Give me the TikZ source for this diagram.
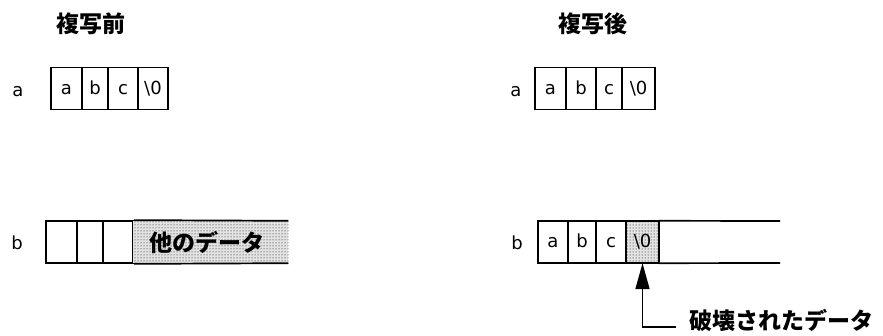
\documentclass[tikz,border=0pt]{standalone}
\usepackage{fontspec}
\newfontfamily\jp{Noto Sans CJK JP}
\setmainfont{DejaVu Sans}
\usetikzlibrary{arrows.meta,patterns}
\begin{document}
\begin{tikzpicture}[x=1pt,y=-1pt,
  cell/.style={draw=black,line width=1.7pt,minimum height=42pt,inner sep=0pt,text height=12pt,text depth=0pt,font=\fontsize{18}{18}\selectfont},
  shade/.style={fill=gray!22,pattern color=black,inner sep=0pt,minimum height=42pt},
  title/.style={font=\jp\bfseries\fontsize{23}{23}\selectfont},
  lab/.style={font=\fontsize{18}{18}\selectfont,text height=12pt,text depth=0pt},
  edge/.style={line width=1.7pt}]
\useasboundingbox (0,0) rectangle (883,336);
% titles
\node[title] (t1) at (91,24) {複写前};
\node[title] (t2) at (593,24) {複写後};
% row labels
\node[lab] (la1) at (18,91) {a};
\node[lab] (la2) at (516,91) {a};
\node[lab] (lb1) at (17,244) {b};
\node[lab] (lb2) at (517,244) {b};
% row a before
\node[cell,minimum width=31pt] (a1) at (66.5,88.5) {a};
\node[cell,minimum width=26pt] (a2) at (95,88.5) {b};
\node[cell,minimum width=30pt] (a3) at (123,88.5) {c};
\node[cell,minimum width=30pt] (a4) at (153,88.5) {\textbackslash0};
% row a after
\node[cell,minimum width=31pt] (c1) at (550.5,88.5) {a};
\node[cell,minimum width=30pt] (c2) at (581,88.5) {b};
\node[cell,minimum width=26pt] (c3) at (609,88.5) {c};
\node[cell,minimum width=33pt] (c4) at (638.5,88.5) {\textbackslash0};
% row b before
\node[cell,minimum width=31pt] (b1) at (61.5,242) {};
\node[cell,minimum width=26pt] (b2) at (90,242) {};
\node[cell,minimum width=30pt] (b3) at (118,242) {};
\node[shade,minimum width=155pt,anchor=west] (b4) at (133,242) {};
\fill[pattern=dots] (b4.north west) rectangle (b4.south east);
\node[font=\jp\bfseries\fontsize{23}{23}\selectfont] (other) at (207,242) {他のデータ};
\draw[edge] (b3.north east) -- (b4.north east);
\draw[edge] (b3.south east) -- (b4.south east);
% row b after
\node[cell,minimum width=30pt] (d1) at (553,242) {a};
\node[cell,minimum width=28pt] (d2) at (582,242) {b};
\node[cell,minimum width=30pt] (d3) at (611,242) {c};
\node[shade,minimum width=33pt] (d4) at (642.5,242) {};
\fill[pattern=dots] (d4.north west) rectangle (d4.south east);
\node[font=\fontsize{18}{18}\selectfont] (d4t) at (d4) {\textbackslash0};
\draw[edge] (d4.north west) rectangle (d4.south east);
\coordinate (e1) at (780,221);
\coordinate (e2) at (780,263);
\draw[edge] (d4.north east) -- (e1);
\draw[edge] (d4.south east) -- (e2);
% arrow
\node[font=\jp\bfseries\fontsize{23}{23}\selectfont,anchor=west] (broken) at (686,320) {破壊されたデータ};
\coordinate (lend) at (676,327);
\coordinate (elbow) at (642.5,327);
\draw[edge,-{Triangle[length=26pt,width=14pt]}] (lend) -- (elbow) -- (d4.south);
\end{tikzpicture}
\end{document}
